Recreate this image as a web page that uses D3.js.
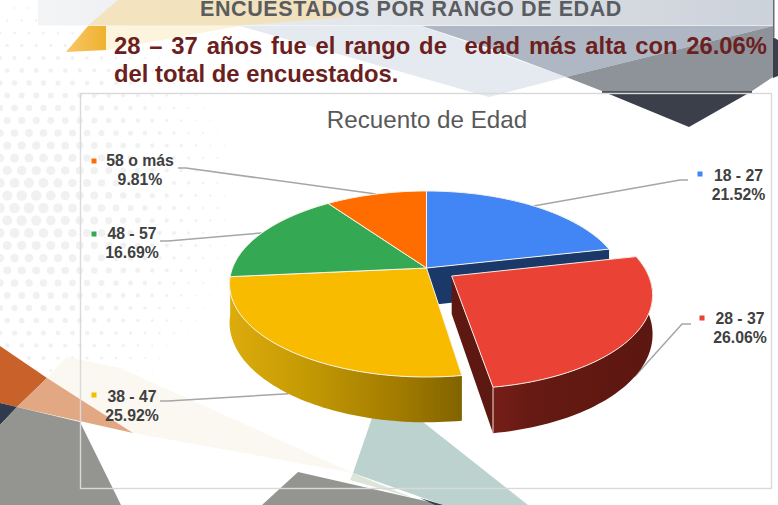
<!DOCTYPE html>
<html lang="es">
<head>
<meta charset="utf-8">
<title>Recuento de Edad</title>
<script src="https://cdn.jsdelivr.net/npm/d3@7/dist/d3.min.js"></script>
<style>
html,body{margin:0;padding:0;background:#fff;overflow:hidden}
svg{display:block}
text{font-family:"Liberation Sans",Arial,sans-serif}
</style>
</head>
<body>
<div id="chart"></div>
<script>
// ---- data ----
const categories = ["18 - 27", "28 - 37", "38 - 47", "48 - 57", "58 o más"];
const percentages = [21.52, 26.06, 25.92, 16.69, 9.81];
const percentLabels = ["21.52%", "26.06%", "25.92%", "16.69%", "9.81%"];
const sliceColors = ["#4285f4", "#ea4335", "#f8bb00", "#34a853", "#ff6d00"];
const chartTitle = "Recuento de Edad";
const slideTitle = "ENCUESTADOS POR RANGO DE EDAD";
const headlineLines = ["28 – 37 años fue el rango de  edad más alta con 26.06%", "del total de encuestados."];

// ---- layout ----
const W = 778, H = 505;
const labelLayout = [
  {cx: 738.5, y: 181, keyX: 697.5, keyY: 171.5, elbowX: 680, elbowY: 180, endX: 688},
  {cx: 740, y: 324, keyX: 699.5, keyY: 315.5, elbowX: 682, elbowY: 324, endX: 691},
  {cx: 132, y: 402, keyX: 91.5,  keyY: 392.5, elbowX: 168, elbowY: 401, endX: 160},
  {cx: 132, y: 239, keyX: 91.5,  keyY: 231.5, elbowX: 168, elbowY: 241, endX: 160},
  {cx: 140, y: 166, keyX: 91.5,  keyY: 158.5, elbowX: 186, elbowY: 168, endX: 178}
];
const explodedIndex = 1, explode = 0.155;
const cx = 426.5, cy = 268, bx = 194, ay = 90.25, persp = 0.172, depth = 37.5;

const svg = d3.select("#chart").append("svg").attr("width", W).attr("height", H).attr("viewBox", `0 0 ${W} ${H}`);
const defs = svg.append("defs");
function hGrad(id, x1, x2, stops) {
  const g = defs.append("linearGradient").attr("id", id).attr("gradientUnits", "userSpaceOnUse")
    .attr("x1", x1).attr("x2", x2).attr("y1", 0).attr("y2", 0);
  stops.forEach(s => g.append("stop").attr("offset", s[0]).attr("stop-color", s[1]));
}
hGrad("gBand", 38, 774, [[0, "#f3f4f6"], [1, "#ccd2da"]]);
hGrad("gYellowSide", 232, 460, [[0, "#dcab0c"], [.3, "#c69b04"], [.75, "#a07a00"], [1, "#826400"]]);
hGrad("gRedSide", 493, 650, [[0, "#761f18"], [.25, "#651a13"], [1, "#5c1710"]]);
hGrad("gGold", 66, 106, [[0, "#f8c766"], [1, "#efb12f"]]);

// ---- slide background ----
const bg = svg.append("g");
const poly = (pts, fill, op) => bg.append("polygon").attr("points", pts.map(p => p.join(",")).join(" ")).attr("fill", fill).attr("opacity", op === undefined ? 1 : op);
const dots = [];
const step = 14.5, rowH = 12.5;
for (let r = 0; r * rowH < 400; r++) {
  for (let c = -1; c * step < 300; c++) {
    const x = c * step + (r % 2 ? step / 2 : 0), y = 8 + r * rowH;
    const d = Math.hypot(x - 25, y - 205);
    const rad = 5.6 * (1 - d / 235);
    if (rad > .5) dots.push({x, y, rad});
  }
}
bg.selectAll("circle").data(dots).join("circle").attr("cx", d => d.x).attr("cy", d => d.y).attr("r", d => d.rad).attr("fill", "#f1f1f1");

poly([[38,0],[774,0],[774,25.5],[38,25.5]], "url(#gBand)");
poly([[118,0],[325,0],[347,17],[240,25.5],[88,25.5]], "#f5deaa", .72);
poly([[106,26],[240,26],[106,50]], "#fdf4de");
poly([[88,26],[106,26],[106,50],[66,52]], "url(#gGold)");
poly([[240,26],[422,26],[566,77],[489,97]], "#e4eaef");
poly([[422,26],[773,26],[566,77],[489,48]], "#aeb7c3");
poly([[566,77],[773,26],[773,77],[752,91],[602,91]], "#8e9299");
poly([[602,91],[752,91],[752,93],[602,93]], "#50535a");
poly([[609,94],[747,94],[689,127]], "#3a3f4a");
poly([[773,37],[778,40],[778,76],[773,78]], "#3a3f4a");
poly([[773,0],[774.5,0],[774.5,37],[773,37]], "#6a6d72");

poly([[47,378],[67,357],[120,368],[353,473],[133,433]], "#faf8f0");
poly([[0,346],[47,378],[17,407],[0,403]], "#c8622a");
poly([[47,378],[133,433],[17,407]], "#e2a884");
poly([[0,403],[17,407],[0,425]], "#2f3a4e");
poly([[17,407],[80,422],[121,505],[0,505],[0,425]], "#949590");
poly([[372,418],[423,422],[528,505],[443,505],[353,473]], "#bbd2ce");
poly([[298,472],[443,505],[262,505]], "#949590");
poly([[353,473],[350,480],[413,498]], "#dde5d8");
poly([[420,498],[443,505],[435,505]], "#34404c");

// ---- slide heading ----
svg.append("text").attr("x", 411).attr("y", 15.5).attr("text-anchor", "middle")
  .attr("font-size", 21.5).attr("font-weight", 700).attr("fill", "#595c60").attr("letter-spacing", .6).text(slideTitle);
const headlineY = [54, 82];
headlineLines.forEach((t, i) => {
  const el = svg.append("text").attr("x", 114).attr("y", headlineY[i]).attr("font-size", 23.8).attr("font-weight", 700)
    .attr("fill", "#6b1f20").style("white-space", "pre").text(t);
  if (i === 0) {
    const spaces = t.split(" ").length - 1;
    el.attr("word-spacing", (653 - el.node().getComputedTextLength()) / spaces);
  }
});

// ---- chart frame ----
svg.append("rect").attr("x", 80.5).attr("y", 93.5).attr("width", 691).attr("height", 395)
  .attr("fill", "none").attr("stroke", "#d9d9d9").attr("stroke-width", 1.4);
svg.append("text").attr("x", 427).attr("y", 128).attr("text-anchor", "middle")
  .attr("font-size", 24.2).attr("fill", "#595959").text(chartTitle);

// ---- pie ----
const arcs = d3.pie().sort(null).value(d => d)(percentages);
const colour = d3.scaleOrdinal().domain(categories).range(sliceColors);
function offset(i) {
  if (i !== explodedIndex) return [0, 0];
  const m = (arcs[i].startAngle + arcs[i].endAngle) / 2;
  return [explode * Math.sin(m), -explode * Math.cos(m)];
}
function proj(u, v, h) {
  const s = 1 / (1 - persp * v);
  return [cx + bx * u * s, cy + (ay * v + h) * s];
}
function rim(i, ang, h) {
  const o = offset(i);
  return proj(Math.sin(ang) + o[0], -Math.cos(ang) + o[1], h);
}
function hub(i, h) { const o = offset(i); return proj(o[0], o[1], h); }
function rimPts(i, a0, a1, h) {
  const n = Math.max(8, Math.ceil((a1 - a0) * 40));
  return d3.range(n + 1).map(k => rim(i, a0 + (a1 - a0) * k / n, h));
}
const line = d3.line();
const closed = pts => line(pts) + "Z";

// leader lines, anchored on the mid-angle of each slice
const gLead = svg.append("g");
gLead.selectAll("polyline").data(arcs).join("polyline")
  .attr("points", (d, i) => {
    const l = labelLayout[i], m = (d.startAngle + d.endAngle) / 2;
    const front = -Math.cos(m) > 0 ? depth : 0;
    return [[l.endX, l.elbowY], [l.elbowX, l.elbowY], rim(i, m, front)].map(p => p.join(",")).join(" ");
  })
  .attr("fill", "none").attr("stroke", "#a6a6a6").attr("stroke-width", 1.5);

const gPie = svg.append("g");
// inner wall of the slice beside the exploded one
const A0 = arcs[0];
gPie.append("path")
  .attr("d", closed([hub(0, 0), rim(0, A0.endAngle, 0), rim(0, A0.endAngle, depth), hub(0, depth)]))
  .attr("fill", "#1a3868");
// outer wall of yellow slice
const A2 = arcs[2];
gPie.append("path")
  .attr("d", closed(rimPts(2, A2.startAngle, A2.endAngle, 0).concat(rimPts(2, A2.startAngle, A2.endAngle, depth).reverse())))
  .attr("fill", "url(#gYellowSide)");
// top faces of unexploded slices
const topPath = (d, i) => closed([hub(i, 0)].concat(rimPts(i, d.startAngle, d.endAngle, 0)));
gPie.selectAll("path.top").data(arcs.map((d, i) => ({d, i})).filter(o => o.i !== explodedIndex)).join("path")
  .attr("class", "top")
  .attr("d", o => topPath(o.d, o.i))
  .attr("fill", o => colour(categories[o.i]))
  .attr("stroke", "#f6f4ea").attr("stroke-width", 1).attr("stroke-linejoin", "round");
// exploded slice
const A1 = arcs[explodedIndex];
gPie.append("path")
  .attr("d", closed([hub(1, 0), rim(1, A1.endAngle, 0), rim(1, A1.endAngle, depth), hub(1, depth)]))
  .attr("fill", "#5c1811");
gPie.append("path")
  .attr("d", closed(rimPts(1, A1.startAngle, A1.endAngle, 0).concat(rimPts(1, A1.startAngle, A1.endAngle, depth).reverse())))
  .attr("fill", "url(#gRedSide)");
gPie.append("path").attr("d", line([rim(1, A1.endAngle, 0), rim(1, A1.endAngle, depth)]))
  .attr("stroke", "#f3dcd8").attr("stroke-width", 1).attr("fill", "none");
gPie.append("path").attr("d", topPath(A1, 1))
  .attr("fill", colour(categories[1])).attr("stroke", "#f7ece8").attr("stroke-width", 1).attr("stroke-linejoin", "round");

// ---- data labels ----
const gLab = svg.append("g").selectAll("g").data(categories).join("g");
gLab.append("rect").attr("x", (d, i) => labelLayout[i].keyX).attr("y", (d, i) => labelLayout[i].keyY)
  .attr("width", 5).attr("height", 5).attr("fill", d => colour(d));
gLab.append("text").attr("x", (d, i) => labelLayout[i].cx).attr("y", (d, i) => labelLayout[i].y)
  .attr("text-anchor", "middle").attr("font-size", 15.8).attr("font-weight", 700).attr("fill", "#404040").text(d => d);
gLab.append("text").attr("x", (d, i) => labelLayout[i].cx).attr("y", (d, i) => labelLayout[i].y + 19)
  .attr("text-anchor", "middle").attr("font-size", 15.8).attr("font-weight", 700).attr("fill", "#404040").text((d, i) => percentLabels[i]);
</script>
</body>
</html>
